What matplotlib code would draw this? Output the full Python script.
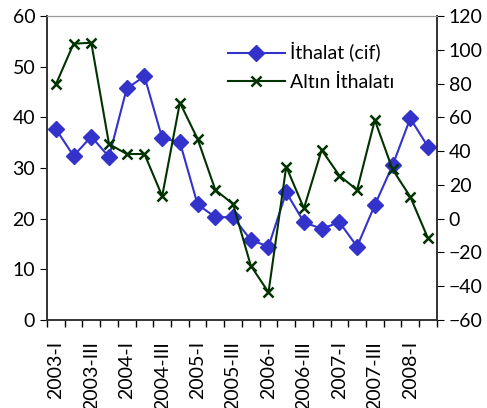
import numpy as np
import matplotlib.pyplot as plt

plt.rcParams['font.family'] = ['Lato', 'DejaVu Sans']

# quarterly series, 2003-I .. 2008-II
quarters = [f"{y}-{q}" for y in range(2003, 2009) for q in ["I", "II", "III", "IV"]][:22]
ithalat = [37.7, 32.4, 36.2, 32.2, 45.7, 48.1, 35.9, 35.1, 22.8, 20.3, 20.3,
           15.8, 14.5, 25.2, 19.3, 18.0, 19.3, 14.5, 22.7, 30.5, 39.8, 34.2]
altin = [79.5, 103.6, 104.2, 44.2, 38.3, 38.3, 13.4, 68.7, 47.2, 17.0, 8.7,
         -27.8, -43.6, 30.8, 6.1, 40.7, 25.5, 17.0, 58.4, 29.2, 13.0, -11.6]

x = np.arange(len(quarters))

fig = plt.figure(figsize=(4.87, 4.08), dpi=100)
ax = fig.add_axes([0.0965, 0.2157, 0.8005, 0.745])
ax2 = ax.twinx()

l1, = ax.plot(x, ithalat, color="#3333CC", marker="D", markersize=8, lw=1.5,
              label="İthalat (cif)")
l2, = ax2.plot(x, altin, color="#003300", marker="x", markersize=7, mew=1.8, lw=1.5,
               label="Altın İthalatı")

ax.set_xlim(-0.5, len(x) - 0.5)
ax.set_ylim(0, 60)
ax.set_yticks(range(0, 61, 10))
ax2.set_ylim(-60, 120)
ax2.set_yticks(range(-60, 121, 20))

ax.set_xticks(x[::2])
ax.set_xticklabels(quarters[::2], rotation=90)
ax.set_xticks(np.arange(-0.5, len(x)), minor=True)
ax.tick_params(axis="x", which="major", length=0, pad=15, labelsize=14)
ax.tick_params(axis="x", which="minor", length=5, width=1)
ax.tick_params(axis="y", length=5, labelsize=14)
ax2.tick_params(axis="y", length=5, labelsize=14)

for a in (ax, ax2):
    a.spines["top"].set_color("#999999")
    for s in ("left", "right", "bottom"):
        a.spines[s].set_color("#333333")
        a.spines[s].set_linewidth(1.2)

ax.legend(handles=[l1, l2], loc="upper left", bbox_to_anchor=(0.42, 0.97),
          frameon=False, fontsize=14, handlelength=2.9, handletextpad=0.3,
          labelspacing=0.55)

fig.savefig("out.png", dpi=100)
